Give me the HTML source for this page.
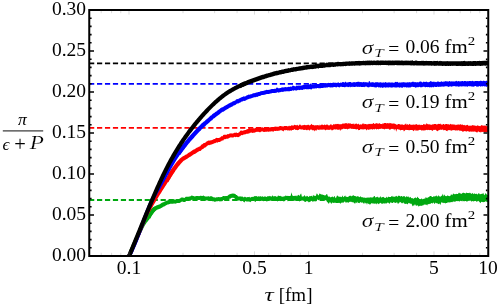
<!DOCTYPE html>
<html><head><meta charset="utf-8"><title>chart</title>
<style>html,body{margin:0;padding:0;background:#fff;}svg{display:block;will-change:transform}</style></head>
<body>
<svg width="498" height="306" viewBox="0 0 498 306">
<rect width="498" height="306" fill="#fff"/>
<defs><clipPath id="c"><rect x="89.25" y="10" width="399" height="246"/></clipPath></defs>
<line x1="89.05" y1="63.3" x2="487.5" y2="63.3" stroke="#000" stroke-width="1.8" stroke-dasharray="5.2 2.75"/>
<line x1="89.05" y1="83.9" x2="487.5" y2="83.9" stroke="#0000ff" stroke-width="1.8" stroke-dasharray="5.2 2.75"/>
<line x1="89.05" y1="127.9" x2="487.5" y2="127.9" stroke="#ff0000" stroke-width="1.8" stroke-dasharray="5.2 2.75"/>
<line x1="89.05" y1="200.0" x2="487.5" y2="200.0" stroke="#00a810" stroke-width="1.8" stroke-dasharray="5.2 2.75"/>
<g clip-path="url(#c)" stroke-linejoin="round" stroke-linecap="butt">
<path d="M129.10,256.00 L129.85,254.18 L130.60,252.38 L131.35,250.59 L132.10,248.81 L132.85,247.05 L133.60,245.30 L134.35,243.57 L135.10,241.85 L135.85,240.14 L136.60,238.44 L137.35,236.73 L138.10,235.02 L138.85,233.34 L139.60,231.70 L140.35,230.11 L141.10,228.60 L141.85,227.14 L142.60,225.73 L143.35,224.38 L144.10,223.12 L144.85,221.99 L145.60,220.98 L146.35,220.05 L147.10,219.13 L147.85,218.15 L148.60,217.05 L149.35,215.82 L150.10,214.56 L150.85,213.35 L151.60,212.30 L152.35,211.36 L153.10,210.47 L153.85,209.65 L154.60,208.97 L155.35,208.44" fill="none" stroke="#00a810" stroke-width="3.8"/>
<path d="M150.0,210.50 L150.7,209.55 L151.4,208.96 L152.1,208.25 L152.8,207.51 L153.5,206.96 L154.2,206.46 L154.9,206.20 L155.6,205.90 L156.3,205.60 L157.0,205.37 L157.7,205.11 L158.4,204.81 L159.1,204.49 L159.8,204.14 L160.5,203.77 L161.2,203.33 L161.9,202.84 L162.6,202.46 L163.3,202.21 L164.0,201.94 L164.7,201.60 L165.4,201.24 L166.1,200.89 L166.8,200.57 L167.5,200.46 L168.2,200.34 L168.9,200.06 L169.6,199.80 L170.3,199.82 L171.0,199.89 L171.7,199.95 L172.4,199.94 L173.1,199.60 L173.8,199.36 L174.5,199.44 L175.2,199.74 L175.9,199.30 L176.6,199.07 L177.3,198.98 L178.0,198.96 L178.7,199.01 L179.4,198.79 L180.1,198.41 L180.8,197.70 L181.5,197.39 L182.2,197.40 L182.9,197.44 L183.6,197.78 L184.3,198.00 L185.0,197.56 L185.7,196.80 L186.4,196.75 L187.1,196.74 L187.8,196.86 L188.5,196.85 L189.2,196.45 L189.9,196.52 L190.6,196.30 L191.3,195.62 L192.0,195.66 L192.7,195.87 L193.4,195.99 L194.1,196.16 L194.8,196.47 L195.5,196.20 L196.2,195.94 L196.9,195.93 L197.6,195.95 L198.3,196.09 L199.0,196.22 L199.7,196.00 L200.4,195.81 L201.1,195.73 L201.8,195.88 L202.5,196.09 L203.2,195.39 L203.9,195.74 L204.6,196.34 L205.3,196.60 L206.0,196.51 L206.7,196.47 L207.4,196.55 L208.1,196.26 L208.8,196.29 L209.5,196.67 L210.2,196.29 L210.9,196.16 L211.6,196.17 L212.3,196.54 L213.0,197.17 L213.7,197.18 L214.4,197.34 L215.1,197.79 L215.8,197.38 L216.5,197.18 L217.2,197.34 L217.9,197.25 L218.6,196.95 L219.3,197.07 L220.0,197.43 L220.7,196.92 L221.4,197.03 L222.1,196.93 L222.8,196.03 L223.5,196.06 L224.2,196.09 L224.9,196.20 L225.6,195.92 L226.3,195.93 L227.0,195.88 L227.7,195.73 L228.4,195.06 L229.1,194.51 L229.8,194.37 L230.5,194.06 L231.2,193.63 L231.9,193.63 L232.6,193.39 L233.3,193.47 L234.0,193.80 L234.7,193.74 L235.4,194.03 L236.1,195.00 L236.8,195.06 L237.5,195.82 L238.2,196.53 L238.9,196.56 L239.6,196.41 L240.3,196.28 L241.0,196.65 L241.7,196.60 L242.4,196.59 L243.1,197.05 L243.8,197.39 L244.5,196.87 L245.2,196.86 L245.9,197.16 L246.6,197.55 L247.3,197.10 L248.0,197.25 L248.7,197.09 L249.4,196.63 L250.1,197.67 L250.8,197.22 L251.5,197.01 L252.2,196.85 L252.9,196.96 L253.6,196.72 L254.3,196.32 L255.0,196.09 L255.7,196.21 L256.4,195.91 L257.1,196.39 L257.8,196.67 L258.5,196.37 L259.2,196.36 L259.9,196.69 L260.6,196.03 L261.3,196.78 L262.0,196.46 L262.7,196.23 L263.4,197.12 L264.1,196.62 L264.8,196.61 L265.5,196.60 L266.2,196.81 L266.9,197.11 L267.6,196.04 L268.3,196.61 L269.0,195.71 L269.7,196.35 L270.4,196.17 L271.1,196.20 L271.8,196.76 L272.5,195.19 L273.2,195.97 L273.9,196.69 L274.6,196.03 L275.3,195.96 L276.0,196.41 L276.7,196.80 L277.4,196.87 L278.1,195.31 L278.8,195.91 L279.5,196.11 L280.2,195.75 L280.9,196.28 L281.6,196.54 L282.3,196.50 L283.0,197.10 L283.7,196.19 L284.4,196.35 L285.1,196.30 L285.8,195.17 L286.5,196.07 L287.2,196.00 L287.9,195.69 L288.6,196.08 L289.3,195.94 L290.0,195.90 L290.7,195.71 L291.4,192.37 L292.1,194.70 L292.8,195.97 L293.5,195.96 L294.2,195.81 L294.9,195.98 L295.6,195.86 L296.3,195.61 L297.0,196.58 L297.7,195.32 L298.4,194.77 L299.1,195.62 L299.8,195.80 L300.5,194.07 L301.2,193.61 L301.9,196.71 L302.6,196.58 L303.3,196.38 L304.0,196.11 L304.7,195.05 L305.4,196.48 L306.1,196.77 L306.8,195.77 L307.5,195.97 L308.2,196.84 L308.9,196.94 L309.6,195.83 L310.3,196.15 L311.0,195.95 L311.7,195.84 L312.4,197.02 L313.1,194.82 L313.8,195.81 L314.5,195.85 L315.2,195.84 L315.9,195.99 L316.6,193.42 L317.3,193.71 L318.0,195.11 L318.7,195.59 L319.4,193.51 L320.1,193.72 L320.8,194.23 L321.5,194.50 L322.2,194.51 L322.9,194.75 L323.6,194.97 L324.3,195.37 L325.0,195.58 L325.7,195.28 L326.4,194.21 L327.1,194.04 L327.8,196.01 L328.5,196.71 L329.2,196.52 L329.9,196.80 L330.6,197.54 L331.3,196.71 L332.0,197.33 L332.7,196.15 L333.4,197.55 L334.1,196.40 L334.8,196.02 L335.5,198.18 L336.2,197.51 L336.9,195.70 L337.6,195.57 L338.3,196.77 L339.0,196.19 L339.7,196.96 L340.4,196.82 L341.1,196.81 L341.8,197.24 L342.5,195.17 L343.2,197.28 L343.9,196.87 L344.6,195.91 L345.3,195.52 L346.0,197.31 L346.7,196.56 L347.4,196.88 L348.1,197.05 L348.8,196.28 L349.5,195.86 L350.2,196.08 L350.9,195.61 L351.6,196.61 L352.3,195.78 L353.0,195.51 L353.7,195.24 L354.4,196.09 L355.1,196.04 L355.8,196.29 L356.5,196.63 L357.2,196.32 L357.9,196.35 L358.6,196.56 L359.3,197.13 L360.0,196.72 L360.7,196.33 L361.4,197.19 L362.1,197.26 L362.8,197.29 L363.5,197.63 L364.2,197.14 L364.9,197.93 L365.6,197.72 L366.3,198.12 L367.0,197.31 L367.7,197.75 L368.4,197.69 L369.1,196.96 L369.8,197.90 L370.5,197.17 L371.2,196.91 L371.9,198.07 L372.6,197.16 L373.3,197.31 L374.0,195.90 L374.7,195.97 L375.4,197.64 L376.1,197.00 L376.8,197.21 L377.5,196.46 L378.2,197.80 L378.9,197.18 L379.6,197.80 L380.3,196.06 L381.0,197.46 L381.7,197.58 L382.4,197.05 L383.1,197.13 L383.8,196.84 L384.5,197.92 L385.2,197.82 L385.9,198.09 L386.6,196.50 L387.3,198.08 L388.0,196.85 L388.7,196.63 L389.4,196.89 L390.1,197.03 L390.8,196.89 L391.5,196.16 L392.2,195.63 L392.9,196.91 L393.6,196.58 L394.3,196.79 L395.0,196.87 L395.7,196.16 L396.4,195.82 L397.1,196.70 L397.8,196.54 L398.5,195.41 L399.2,195.97 L399.9,195.67 L400.6,196.84 L401.3,196.02 L402.0,196.10 L402.7,197.04 L403.4,196.02 L404.1,196.61 L404.8,196.02 L405.5,197.43 L406.2,196.38 L406.9,196.13 L407.6,196.95 L408.3,196.27 L409.0,197.40 L409.7,197.60 L410.4,196.69 L411.1,197.93 L411.8,198.25 L412.5,198.11 L413.2,198.89 L413.9,198.35 L414.6,198.03 L415.3,197.23 L416.0,197.95 L416.7,198.13 L417.4,196.43 L418.1,197.67 L418.8,197.99 L419.5,199.17 L420.2,199.06 L420.9,199.35 L421.6,198.37 L422.3,199.05 L423.0,199.48 L423.7,198.68 L424.4,198.47 L425.1,198.67 L425.8,196.94 L426.5,197.72 L427.2,198.32 L427.9,197.28 L428.6,197.15 L429.3,196.83 L430.0,196.11 L430.7,196.02 L431.4,196.14 L432.1,196.97 L432.8,196.99 L433.5,196.25 L434.2,196.56 L434.9,196.14 L435.6,196.20 L436.3,195.19 L437.0,196.54 L437.7,196.56 L438.4,194.97 L439.1,196.72 L439.8,196.04 L440.5,197.00 L441.2,195.50 L441.9,196.13 L442.6,193.41 L443.3,196.56 L444.0,194.28 L444.7,195.22 L445.4,196.00 L446.1,196.34 L446.8,195.88 L447.5,195.37 L448.2,196.04 L448.9,195.77 L449.6,196.15 L450.3,196.00 L451.0,194.23 L451.7,194.74 L452.4,195.21 L453.1,193.36 L453.8,193.88 L454.5,194.23 L455.2,194.02 L455.9,194.14 L456.6,193.68 L457.3,194.01 L458.0,194.09 L458.7,192.73 L459.4,192.70 L460.1,193.80 L460.8,193.36 L461.5,193.88 L462.2,193.32 L462.9,192.64 L463.6,192.67 L464.3,193.05 L465.0,193.31 L465.7,193.47 L466.4,192.49 L467.1,192.91 L467.8,192.99 L468.5,193.11 L469.2,193.19 L469.9,192.38 L470.6,193.37 L471.3,193.67 L472.0,193.87 L472.7,192.87 L473.4,194.37 L474.1,193.45 L474.8,193.50 L475.5,193.90 L476.2,194.11 L476.9,193.62 L477.6,194.82 L478.3,193.50 L479.0,193.12 L479.7,194.14 L480.4,194.36 L481.1,193.87 L481.8,194.03 L482.5,193.70 L483.2,192.81 L483.9,194.40 L484.6,195.16 L485.3,193.18 L486.0,193.62 L486.7,194.61 L487.4,195.08 L488.1,194.94 L488.1,202.01 L487.4,202.31 L486.7,201.67 L486.0,201.43 L485.3,201.37 L484.6,202.06 L483.9,202.00 L483.2,202.14 L482.5,201.93 L481.8,201.83 L481.1,202.09 L480.4,203.15 L479.7,202.28 L479.0,201.45 L478.3,200.70 L477.6,201.29 L476.9,201.74 L476.2,201.43 L475.5,200.52 L474.8,200.83 L474.1,201.13 L473.4,201.42 L472.7,200.63 L472.0,201.44 L471.3,201.50 L470.6,200.29 L469.9,200.72 L469.2,200.82 L468.5,200.90 L467.8,200.56 L467.1,201.91 L466.4,201.31 L465.7,200.98 L465.0,200.27 L464.3,201.47 L463.6,201.23 L462.9,200.28 L462.2,201.52 L461.5,201.08 L460.8,200.71 L460.1,200.92 L459.4,201.63 L458.7,200.13 L458.0,201.80 L457.3,200.14 L456.6,200.44 L455.9,201.71 L455.2,201.20 L454.5,201.69 L453.8,201.75 L453.1,201.36 L452.4,202.30 L451.7,201.90 L451.0,202.35 L450.3,202.22 L449.6,202.38 L448.9,202.34 L448.2,202.50 L447.5,202.40 L446.8,203.06 L446.1,202.88 L445.4,203.49 L444.7,202.86 L444.0,203.18 L443.3,202.82 L442.6,202.82 L441.9,202.58 L441.2,202.13 L440.5,205.29 L439.8,203.22 L439.1,204.21 L438.4,203.92 L437.7,203.57 L437.0,203.17 L436.3,203.18 L435.6,202.58 L434.9,203.69 L434.2,203.72 L433.5,202.25 L432.8,203.39 L432.1,203.18 L431.4,202.88 L430.7,203.46 L430.0,204.34 L429.3,203.72 L428.6,204.15 L427.9,204.05 L427.2,205.61 L426.5,204.71 L425.8,204.53 L425.1,204.63 L424.4,204.57 L423.7,204.74 L423.0,205.66 L422.3,205.26 L421.6,206.06 L420.9,205.52 L420.2,206.07 L419.5,205.69 L418.8,206.67 L418.1,205.78 L417.4,205.35 L416.7,205.41 L416.0,205.96 L415.3,204.57 L414.6,204.52 L413.9,206.16 L413.2,204.94 L412.5,206.54 L411.8,204.25 L411.1,203.56 L410.4,203.81 L409.7,203.39 L409.0,202.68 L408.3,203.13 L407.6,204.53 L406.9,203.80 L406.2,203.75 L405.5,203.91 L404.8,203.51 L404.1,203.76 L403.4,202.22 L402.7,202.96 L402.0,203.54 L401.3,202.78 L400.6,202.29 L399.9,201.78 L399.2,203.00 L398.5,203.39 L397.8,203.63 L397.1,202.19 L396.4,202.61 L395.7,203.11 L395.0,202.76 L394.3,202.58 L393.6,202.05 L392.9,203.08 L392.2,202.94 L391.5,202.87 L390.8,202.13 L390.1,202.72 L389.4,204.00 L388.7,202.95 L388.0,202.44 L387.3,202.79 L386.6,203.25 L385.9,203.95 L385.2,202.77 L384.5,203.75 L383.8,203.30 L383.1,203.43 L382.4,203.76 L381.7,203.70 L381.0,203.36 L380.3,202.67 L379.6,203.14 L378.9,204.34 L378.2,203.82 L377.5,203.33 L376.8,203.62 L376.1,204.57 L375.4,203.32 L374.7,203.59 L374.0,203.96 L373.3,203.33 L372.6,203.41 L371.9,203.26 L371.2,203.31 L370.5,204.33 L369.8,204.65 L369.1,203.71 L368.4,204.07 L367.7,202.80 L367.0,204.75 L366.3,203.12 L365.6,203.41 L364.9,202.36 L364.2,203.69 L363.5,203.54 L362.8,202.47 L362.1,202.48 L361.4,202.64 L360.7,201.92 L360.0,202.41 L359.3,203.29 L358.6,202.68 L357.9,203.19 L357.2,201.56 L356.5,203.27 L355.8,202.25 L355.1,203.65 L354.4,203.21 L353.7,202.75 L353.0,201.63 L352.3,202.49 L351.6,202.03 L350.9,201.61 L350.2,202.00 L349.5,201.68 L348.8,202.54 L348.1,202.78 L347.4,202.33 L346.7,201.89 L346.0,203.26 L345.3,201.68 L344.6,201.60 L343.9,202.06 L343.2,203.03 L342.5,202.49 L341.8,202.55 L341.1,203.09 L340.4,203.80 L339.7,202.97 L339.0,202.64 L338.3,202.96 L337.6,203.01 L336.9,202.96 L336.2,202.99 L335.5,202.71 L334.8,202.63 L334.1,202.73 L333.4,203.04 L332.7,202.61 L332.0,202.72 L331.3,204.07 L330.6,202.78 L329.9,201.82 L329.2,203.27 L328.5,203.65 L327.8,202.34 L327.1,202.13 L326.4,200.62 L325.7,200.60 L325.0,199.66 L324.3,200.08 L323.6,199.90 L322.9,199.85 L322.2,200.69 L321.5,200.42 L320.8,200.68 L320.1,200.28 L319.4,199.53 L318.7,200.26 L318.0,199.88 L317.3,199.29 L316.6,200.85 L315.9,201.85 L315.2,200.90 L314.5,201.18 L313.8,201.44 L313.1,201.33 L312.4,201.69 L311.7,200.65 L311.0,200.93 L310.3,201.68 L309.6,202.25 L308.9,201.60 L308.2,202.51 L307.5,200.89 L306.8,201.04 L306.1,201.58 L305.4,202.04 L304.7,201.93 L304.0,200.77 L303.3,200.79 L302.6,200.38 L301.9,200.51 L301.2,200.69 L300.5,200.21 L299.8,201.85 L299.1,200.87 L298.4,200.82 L297.7,200.99 L297.0,200.50 L296.3,200.35 L295.6,200.68 L294.9,200.69 L294.2,200.56 L293.5,200.92 L292.8,200.93 L292.1,200.88 L291.4,199.66 L290.7,200.82 L290.0,200.47 L289.3,200.61 L288.6,200.44 L287.9,201.39 L287.2,200.00 L286.5,200.00 L285.8,200.36 L285.1,200.41 L284.4,201.24 L283.7,201.60 L283.0,201.00 L282.3,200.96 L281.6,200.67 L280.9,201.17 L280.2,200.44 L279.5,201.09 L278.8,201.07 L278.1,200.97 L277.4,201.44 L276.7,200.94 L276.0,200.86 L275.3,200.16 L274.6,200.74 L273.9,201.08 L273.2,200.45 L272.5,200.53 L271.8,200.93 L271.1,200.80 L270.4,200.56 L269.7,201.08 L269.0,200.59 L268.3,200.87 L267.6,200.99 L266.9,201.66 L266.2,200.90 L265.5,200.70 L264.8,200.46 L264.1,201.02 L263.4,201.23 L262.7,200.92 L262.0,200.67 L261.3,200.78 L260.6,200.58 L259.9,200.77 L259.2,201.15 L258.5,200.58 L257.8,200.86 L257.1,200.87 L256.4,200.20 L255.7,201.65 L255.0,201.88 L254.3,200.75 L253.6,201.04 L252.9,201.04 L252.2,200.82 L251.5,201.05 L250.8,201.72 L250.1,202.33 L249.4,201.48 L248.7,201.52 L248.0,201.46 L247.3,201.39 L246.6,201.47 L245.9,201.35 L245.2,200.96 L244.5,202.38 L243.8,202.06 L243.1,201.19 L242.4,200.86 L241.7,200.96 L241.0,201.49 L240.3,200.50 L239.6,200.47 L238.9,200.47 L238.2,200.54 L237.5,200.74 L236.8,200.13 L236.1,199.83 L235.4,199.55 L234.7,198.45 L234.0,197.90 L233.3,197.71 L232.6,197.72 L231.9,197.75 L231.2,198.07 L230.5,198.66 L229.8,198.62 L229.1,199.17 L228.4,199.81 L227.7,200.04 L227.0,199.92 L226.3,199.90 L225.6,200.30 L224.9,200.46 L224.2,200.07 L223.5,200.05 L222.8,200.79 L222.1,201.23 L221.4,201.29 L220.7,201.35 L220.0,201.55 L219.3,201.25 L218.6,201.06 L217.9,201.27 L217.2,201.28 L216.5,201.19 L215.8,201.61 L215.1,201.82 L214.4,201.70 L213.7,201.19 L213.0,201.28 L212.3,201.32 L211.6,200.39 L210.9,200.11 L210.2,200.48 L209.5,200.99 L208.8,200.87 L208.1,200.39 L207.4,200.47 L206.7,200.35 L206.0,200.40 L205.3,200.50 L204.6,200.49 L203.9,200.14 L203.2,199.90 L202.5,201.09 L201.8,200.87 L201.1,199.68 L200.4,199.80 L199.7,200.02 L199.0,200.08 L198.3,200.09 L197.6,199.89 L196.9,199.75 L196.2,200.00 L195.5,200.28 L194.8,200.49 L194.1,200.40 L193.4,199.96 L192.7,199.80 L192.0,199.68 L191.3,200.11 L190.6,200.70 L189.9,200.61 L189.2,200.68 L188.5,201.09 L187.8,201.02 L187.1,200.71 L186.4,200.68 L185.7,201.43 L185.0,201.89 L184.3,201.98 L183.6,202.01 L182.9,201.71 L182.2,201.38 L181.5,201.63 L180.8,202.31 L180.1,202.69 L179.4,202.95 L178.7,202.96 L178.0,202.90 L177.3,202.94 L176.6,203.15 L175.9,203.58 L175.2,203.75 L174.5,203.57 L173.8,203.42 L173.1,203.75 L172.4,203.81 L171.7,203.79 L171.0,203.77 L170.3,203.72 L169.6,203.95 L168.9,204.27 L168.2,204.43 L167.5,204.58 L166.8,204.93 L166.1,205.30 L165.4,205.71 L164.7,206.15 L164.0,206.52 L163.3,206.84 L162.6,207.26 L161.9,207.73 L161.2,208.12 L160.5,208.39 L159.8,208.64 L159.1,208.91 L158.4,209.20 L157.7,209.49 L157.0,209.79 L156.3,210.21 L155.6,210.74 L154.9,211.39 L154.2,212.34 L153.5,213.26 L152.8,214.23 L152.1,215.19 L151.4,216.27 L150.7,217.74 L150.0,219.04Z" fill="#00a810" stroke="none"/>
<path d="M129.10,256.00 L129.85,254.35 L130.60,252.68 L131.35,250.99 L132.10,249.30 L132.85,247.58 L133.60,245.86 L134.35,244.12 L135.10,242.36 L135.85,240.60 L136.60,238.82 L137.35,237.03 L138.10,235.24 L138.85,233.43 L139.60,231.61 L140.35,229.79 L141.10,227.95 L141.85,226.05 L142.60,224.07 L143.35,222.06 L144.10,220.08 L144.85,218.17 L145.60,216.39 L146.35,214.76 L147.10,213.21 L147.85,211.71 L148.60,210.27 L149.35,208.88 L150.10,207.52 L150.85,206.20 L151.60,204.90 L152.35,203.62 L153.10,202.36 L153.85,201.10 L154.60,199.85 L155.35,198.59 L156.10,197.33 L156.85,196.07 L157.60,194.84 L158.35,193.62 L159.10,192.42 L159.85,191.22 L160.60,190.03 L161.35,188.85 L162.10,187.68 L162.85,186.51 L163.60,185.34 L164.35,184.17 L165.10,183.00 L165.85,181.82 L166.60,180.62 L167.35,179.41 L168.10,178.20 L168.85,176.99 L169.60,175.78 L170.35,174.59 L171.10,173.41 L171.85,172.25 L172.60,171.12 L173.35,170.01" fill="none" stroke="#ff0000" stroke-width="3.8"/>
<path d="M168.0,174.18 L168.7,173.07 L169.4,171.97 L170.1,170.88 L170.8,169.80 L171.5,168.76 L172.2,167.75 L172.9,166.83 L173.6,165.93 L174.3,165.00 L175.0,164.09 L175.7,163.25 L176.4,162.36 L177.1,161.48 L177.8,160.65 L178.5,159.88 L179.2,159.20 L179.9,158.56 L180.6,157.97 L181.3,157.39 L182.0,156.86 L182.7,156.40 L183.4,156.00 L184.1,155.65 L184.8,155.26 L185.5,154.80 L186.2,154.48 L186.9,154.20 L187.6,153.47 L188.3,152.92 L189.0,152.56 L189.7,152.19 L190.4,151.78 L191.1,151.29 L191.8,150.76 L192.5,150.20 L193.2,149.64 L193.9,149.50 L194.6,149.24 L195.3,148.82 L196.0,148.31 L196.7,147.79 L197.4,147.39 L198.1,147.30 L198.8,146.77 L199.5,146.45 L200.2,146.24 L200.9,145.15 L201.6,144.62 L202.3,144.27 L203.0,143.85 L203.7,143.03 L204.4,143.01 L205.1,142.81 L205.8,142.27 L206.5,141.59 L207.2,141.32 L207.9,140.73 L208.6,140.59 L209.3,140.72 L210.0,140.27 L210.7,140.41 L211.4,140.30 L212.1,140.09 L212.8,139.77 L213.5,139.28 L214.2,139.06 L214.9,138.96 L215.6,138.29 L216.3,137.71 L217.0,137.98 L217.7,137.99 L218.4,137.90 L219.1,137.91 L219.8,137.50 L220.5,137.13 L221.2,136.23 L221.9,136.16 L222.6,136.18 L223.3,135.10 L224.0,134.85 L224.7,134.86 L225.4,134.65 L226.1,134.64 L226.8,134.69 L227.5,134.08 L228.2,134.15 L228.9,133.90 L229.6,133.51 L230.3,133.49 L231.0,133.35 L231.7,133.45 L232.4,133.39 L233.1,133.48 L233.8,132.92 L234.5,132.73 L235.2,132.84 L235.9,132.82 L236.6,132.45 L237.3,133.01 L238.0,133.12 L238.7,132.41 L239.4,131.92 L240.1,131.05 L240.8,130.60 L241.5,130.61 L242.2,130.96 L242.9,130.38 L243.6,130.40 L244.3,130.25 L245.0,130.09 L245.7,129.93 L246.4,129.46 L247.1,129.33 L247.8,128.97 L248.5,129.06 L249.2,127.91 L249.9,128.08 L250.6,128.72 L251.3,128.48 L252.0,128.27 L252.7,128.42 L253.4,128.36 L254.1,128.22 L254.8,128.51 L255.5,127.64 L256.2,127.54 L256.9,127.83 L257.6,127.73 L258.3,127.83 L259.0,127.87 L259.7,128.12 L260.4,127.73 L261.1,127.49 L261.8,127.46 L262.5,127.25 L263.2,127.47 L263.9,127.98 L264.6,127.98 L265.3,127.62 L266.0,127.74 L266.7,127.64 L267.4,127.46 L268.1,127.38 L268.8,127.54 L269.5,127.51 L270.2,127.26 L270.9,127.29 L271.6,127.00 L272.3,127.06 L273.0,127.53 L273.7,127.09 L274.4,126.80 L275.1,126.74 L275.8,126.62 L276.5,126.78 L277.2,126.86 L277.9,126.70 L278.6,126.64 L279.3,126.37 L280.0,126.06 L280.7,126.00 L281.4,126.13 L282.1,126.30 L282.8,126.49 L283.5,126.38 L284.2,125.93 L284.9,125.91 L285.6,126.06 L286.3,126.05 L287.0,125.91 L287.7,126.54 L288.4,126.33 L289.1,125.48 L289.8,126.30 L290.5,125.90 L291.2,125.56 L291.9,125.30 L292.6,125.53 L293.3,125.70 L294.0,125.05 L294.7,124.85 L295.4,124.99 L296.1,125.46 L296.8,125.04 L297.5,124.81 L298.2,125.88 L298.9,125.22 L299.6,124.55 L300.3,124.60 L301.0,125.56 L301.7,125.38 L302.4,125.19 L303.1,125.23 L303.8,125.00 L304.5,124.72 L305.2,125.15 L305.9,125.12 L306.6,125.18 L307.3,124.69 L308.0,125.14 L308.7,124.62 L309.4,125.53 L310.1,125.30 L310.8,124.72 L311.5,123.73 L312.2,125.03 L312.9,124.80 L313.6,125.05 L314.3,125.59 L315.0,125.28 L315.7,125.25 L316.4,125.22 L317.1,125.22 L317.8,125.10 L318.5,125.20 L319.2,125.77 L319.9,124.49 L320.6,125.43 L321.3,124.72 L322.0,124.54 L322.7,124.83 L323.4,125.23 L324.1,124.73 L324.8,124.55 L325.5,125.28 L326.2,124.60 L326.9,124.83 L327.6,124.45 L328.3,125.32 L329.0,125.50 L329.7,125.33 L330.4,124.43 L331.1,123.96 L331.8,125.18 L332.5,125.23 L333.2,124.58 L333.9,123.92 L334.6,124.56 L335.3,124.27 L336.0,123.82 L336.7,124.20 L337.4,124.09 L338.1,123.83 L338.8,124.21 L339.5,124.19 L340.2,124.20 L340.9,124.18 L341.6,124.24 L342.3,123.62 L343.0,123.77 L343.7,123.53 L344.4,123.52 L345.1,123.43 L345.8,123.09 L346.5,123.04 L347.2,124.20 L347.9,122.70 L348.6,123.58 L349.3,123.36 L350.0,123.66 L350.7,123.31 L351.4,124.12 L352.1,123.98 L352.8,123.64 L353.5,123.57 L354.2,124.86 L354.9,123.46 L355.6,123.92 L356.3,123.26 L357.0,124.15 L357.7,124.35 L358.4,123.58 L359.1,124.41 L359.8,124.84 L360.5,124.28 L361.2,124.60 L361.9,124.59 L362.6,123.46 L363.3,123.35 L364.0,124.55 L364.7,123.75 L365.4,123.93 L366.1,124.08 L366.8,124.51 L367.5,124.29 L368.2,124.13 L368.9,123.77 L369.6,124.09 L370.3,123.86 L371.0,124.16 L371.7,123.77 L372.4,123.96 L373.1,123.28 L373.8,123.10 L374.5,124.03 L375.2,123.96 L375.9,123.11 L376.6,123.19 L377.3,123.54 L378.0,123.51 L378.7,123.83 L379.4,123.05 L380.1,123.85 L380.8,123.93 L381.5,123.95 L382.2,124.14 L382.9,122.95 L383.6,123.73 L384.3,123.07 L385.0,123.11 L385.7,123.12 L386.4,123.38 L387.1,122.91 L387.8,123.17 L388.5,123.16 L389.2,123.59 L389.9,122.70 L390.6,123.34 L391.3,123.23 L392.0,123.71 L392.7,123.48 L393.4,123.38 L394.1,123.60 L394.8,123.79 L395.5,123.98 L396.2,124.43 L396.9,124.63 L397.6,124.55 L398.3,124.11 L399.0,123.97 L399.7,124.16 L400.4,124.62 L401.1,124.72 L401.8,124.23 L402.5,124.39 L403.2,124.70 L403.9,124.98 L404.6,124.52 L405.3,124.29 L406.0,123.14 L406.7,125.11 L407.4,124.08 L408.1,124.67 L408.8,124.80 L409.5,123.87 L410.2,124.46 L410.9,124.75 L411.6,124.65 L412.3,125.06 L413.0,124.31 L413.7,124.63 L414.4,124.70 L415.1,124.57 L415.8,124.47 L416.5,123.94 L417.2,124.71 L417.9,124.74 L418.6,124.70 L419.3,124.70 L420.0,124.62 L420.7,125.30 L421.4,124.71 L422.1,124.94 L422.8,124.89 L423.5,123.98 L424.2,124.34 L424.9,124.60 L425.6,124.72 L426.3,123.10 L427.0,124.42 L427.7,123.80 L428.4,124.25 L429.1,124.66 L429.8,124.03 L430.5,124.63 L431.2,124.83 L431.9,124.73 L432.6,124.19 L433.3,124.59 L434.0,124.06 L434.7,124.04 L435.4,123.88 L436.1,124.10 L436.8,124.85 L437.5,124.36 L438.2,123.80 L438.9,124.10 L439.6,124.04 L440.3,123.55 L441.0,124.42 L441.7,124.43 L442.4,124.65 L443.1,124.04 L443.8,124.06 L444.5,124.77 L445.2,124.37 L445.9,124.04 L446.6,124.01 L447.3,124.28 L448.0,124.16 L448.7,124.27 L449.4,124.68 L450.1,124.16 L450.8,123.72 L451.5,124.46 L452.2,124.54 L452.9,124.19 L453.6,124.60 L454.3,124.64 L455.0,124.26 L455.7,125.25 L456.4,124.82 L457.1,124.83 L457.8,124.60 L458.5,124.43 L459.2,124.44 L459.9,124.70 L460.6,123.97 L461.3,125.11 L462.0,124.24 L462.7,124.85 L463.4,125.19 L464.1,124.80 L464.8,125.18 L465.5,125.38 L466.2,125.14 L466.9,125.07 L467.6,124.80 L468.3,125.58 L469.0,125.93 L469.7,125.49 L470.4,125.65 L471.1,125.46 L471.8,125.87 L472.5,125.05 L473.2,125.25 L473.9,125.39 L474.6,125.58 L475.3,125.46 L476.0,126.24 L476.7,125.79 L477.4,125.27 L478.1,125.75 L478.8,125.82 L479.5,125.93 L480.2,126.15 L480.9,125.39 L481.6,124.99 L482.3,125.64 L483.0,124.98 L483.7,125.99 L484.4,125.39 L485.1,125.61 L485.8,125.71 L486.5,126.14 L487.2,126.02 L487.9,125.69 L488.6,127.62 L488.6,131.22 L487.9,132.52 L487.2,131.93 L486.5,131.90 L485.8,132.10 L485.1,132.13 L484.4,132.28 L483.7,131.98 L483.0,131.80 L482.3,132.11 L481.6,131.81 L480.9,132.70 L480.2,131.82 L479.5,132.30 L478.8,131.78 L478.1,131.28 L477.4,132.49 L476.7,132.60 L476.0,131.85 L475.3,131.63 L474.6,131.39 L473.9,131.46 L473.2,131.69 L472.5,131.56 L471.8,131.69 L471.1,131.43 L470.4,131.48 L469.7,131.82 L469.0,131.87 L468.3,131.33 L467.6,131.10 L466.9,131.45 L466.2,131.58 L465.5,131.18 L464.8,130.90 L464.1,131.21 L463.4,131.47 L462.7,132.07 L462.0,130.67 L461.3,130.98 L460.6,130.48 L459.9,131.30 L459.2,130.21 L458.5,130.25 L457.8,130.35 L457.1,130.78 L456.4,130.24 L455.7,130.56 L455.0,130.59 L454.3,130.09 L453.6,130.01 L452.9,130.53 L452.2,130.08 L451.5,130.75 L450.8,130.81 L450.1,129.80 L449.4,130.22 L448.7,130.19 L448.0,129.95 L447.3,131.31 L446.6,130.96 L445.9,130.40 L445.2,130.05 L444.5,129.98 L443.8,130.43 L443.1,129.82 L442.4,129.59 L441.7,129.72 L441.0,129.95 L440.3,129.50 L439.6,129.90 L438.9,130.25 L438.2,130.40 L437.5,131.16 L436.8,130.90 L436.1,130.05 L435.4,129.68 L434.7,129.91 L434.0,129.76 L433.3,129.98 L432.6,130.97 L431.9,130.40 L431.2,129.92 L430.5,129.89 L429.8,130.01 L429.1,130.36 L428.4,129.64 L427.7,130.32 L427.0,129.77 L426.3,129.96 L425.6,130.34 L424.9,130.32 L424.2,130.38 L423.5,130.48 L422.8,130.34 L422.1,130.49 L421.4,130.49 L420.7,129.91 L420.0,129.66 L419.3,130.07 L418.6,130.44 L417.9,130.03 L417.2,131.12 L416.5,130.29 L415.8,130.98 L415.1,129.57 L414.4,130.25 L413.7,131.20 L413.0,130.52 L412.3,129.88 L411.6,129.96 L410.9,129.97 L410.2,129.90 L409.5,130.22 L408.8,130.36 L408.1,129.97 L407.4,129.96 L406.7,129.91 L406.0,129.74 L405.3,130.02 L404.6,130.66 L403.9,131.62 L403.2,129.83 L402.5,130.03 L401.8,129.94 L401.1,130.01 L400.4,130.42 L399.7,129.73 L399.0,129.42 L398.3,129.62 L397.6,128.99 L396.9,129.45 L396.2,131.78 L395.5,129.11 L394.8,129.01 L394.1,130.46 L393.4,128.44 L392.7,128.56 L392.0,129.06 L391.3,128.48 L390.6,129.48 L389.9,129.63 L389.2,129.41 L388.5,128.73 L387.8,128.43 L387.1,128.20 L386.4,128.66 L385.7,128.52 L385.0,128.56 L384.3,129.75 L383.6,128.77 L382.9,128.97 L382.2,128.73 L381.5,128.49 L380.8,128.88 L380.1,128.60 L379.4,128.66 L378.7,129.51 L378.0,128.99 L377.3,129.09 L376.6,129.70 L375.9,128.41 L375.2,128.86 L374.5,129.38 L373.8,129.21 L373.1,128.99 L372.4,129.68 L371.7,129.36 L371.0,129.11 L370.3,129.58 L369.6,129.55 L368.9,129.51 L368.2,130.06 L367.5,128.97 L366.8,130.46 L366.1,129.64 L365.4,129.09 L364.7,129.13 L364.0,129.22 L363.3,129.55 L362.6,129.56 L361.9,129.10 L361.2,129.43 L360.5,129.01 L359.8,129.98 L359.1,130.07 L358.4,130.27 L357.7,129.06 L357.0,129.29 L356.3,129.48 L355.6,129.20 L354.9,128.87 L354.2,129.02 L353.5,129.08 L352.8,128.25 L352.1,128.57 L351.4,128.79 L350.7,128.81 L350.0,128.11 L349.3,129.05 L348.6,128.75 L347.9,128.64 L347.2,129.72 L346.5,128.27 L345.8,128.76 L345.1,128.91 L344.4,128.37 L343.7,128.22 L343.0,129.09 L342.3,129.30 L341.6,129.47 L340.9,129.42 L340.2,131.10 L339.5,129.35 L338.8,129.74 L338.1,129.84 L337.4,129.80 L336.7,129.27 L336.0,129.50 L335.3,129.49 L334.6,129.19 L333.9,129.42 L333.2,129.87 L332.5,130.32 L331.8,130.56 L331.1,129.47 L330.4,129.53 L329.7,129.68 L329.0,130.01 L328.3,129.67 L327.6,129.85 L326.9,129.86 L326.2,129.76 L325.5,130.44 L324.8,129.66 L324.1,129.51 L323.4,129.52 L322.7,129.71 L322.0,129.59 L321.3,129.63 L320.6,129.82 L319.9,129.37 L319.2,130.31 L318.5,129.86 L317.8,129.69 L317.1,129.30 L316.4,130.73 L315.7,130.41 L315.0,129.94 L314.3,131.49 L313.6,129.88 L312.9,130.34 L312.2,130.22 L311.5,129.41 L310.8,129.47 L310.1,129.75 L309.4,130.70 L308.7,130.02 L308.0,129.50 L307.3,130.20 L306.6,130.25 L305.9,129.75 L305.2,129.76 L304.5,129.93 L303.8,129.80 L303.1,129.92 L302.4,129.30 L301.7,129.42 L301.0,129.61 L300.3,129.31 L299.6,128.89 L298.9,129.73 L298.2,130.12 L297.5,130.37 L296.8,129.89 L296.1,129.66 L295.4,129.95 L294.7,129.01 L294.0,129.40 L293.3,129.88 L292.6,129.99 L291.9,130.01 L291.2,130.93 L290.5,130.01 L289.8,130.98 L289.1,130.04 L288.4,130.59 L287.7,130.61 L287.0,130.26 L286.3,130.12 L285.6,130.29 L284.9,130.32 L284.2,130.11 L283.5,131.46 L282.8,130.89 L282.1,130.45 L281.4,130.28 L280.7,130.31 L280.0,130.34 L279.3,130.75 L278.6,130.69 L277.9,130.73 L277.2,130.88 L276.5,130.71 L275.8,131.05 L275.1,131.03 L274.4,130.86 L273.7,131.60 L273.0,131.67 L272.3,131.31 L271.6,131.28 L270.9,131.59 L270.2,131.58 L269.5,131.62 L268.8,131.74 L268.1,131.76 L267.4,131.42 L266.7,131.70 L266.0,131.67 L265.3,131.86 L264.6,132.08 L263.9,131.83 L263.2,131.89 L262.5,131.27 L261.8,131.51 L261.1,131.53 L260.4,132.24 L259.7,132.25 L259.0,131.92 L258.3,131.69 L257.6,131.68 L256.9,131.88 L256.2,131.80 L255.5,132.33 L254.8,132.68 L254.1,132.58 L253.4,132.79 L252.7,132.90 L252.0,132.80 L251.3,132.56 L250.6,132.67 L249.9,132.73 L249.2,133.44 L248.5,133.38 L247.8,133.74 L247.1,133.73 L246.4,133.85 L245.7,134.30 L245.0,134.28 L244.3,134.40 L243.6,134.40 L242.9,134.95 L242.2,135.23 L241.5,135.12 L240.8,135.55 L240.1,136.31 L239.4,136.55 L238.7,137.08 L238.0,137.16 L237.3,136.96 L236.6,136.82 L235.9,137.19 L235.2,137.05 L234.5,136.75 L233.8,137.32 L233.1,137.60 L232.4,137.54 L231.7,137.45 L231.0,137.36 L230.3,137.49 L229.6,137.80 L228.9,138.36 L228.2,138.47 L227.5,138.74 L226.8,138.80 L226.1,138.68 L225.4,139.23 L224.7,139.24 L224.0,139.22 L223.3,140.43 L222.6,140.44 L221.9,140.39 L221.2,141.25 L220.5,141.58 L219.8,142.11 L219.1,142.12 L218.4,142.00 L217.7,142.56 L217.0,142.70 L216.3,142.29 L215.6,142.95 L214.9,143.23 L214.2,143.24 L213.5,143.72 L212.8,144.05 L212.1,144.28 L211.4,144.61 L210.7,144.68 L210.0,144.81 L209.3,145.24 L208.6,145.07 L207.9,145.53 L207.2,145.85 L206.5,146.58 L205.8,147.16 L205.1,147.46 L204.4,147.63 L203.7,148.55 L203.0,149.02 L202.3,149.37 L201.6,149.83 L200.9,150.80 L200.2,150.90 L199.5,151.07 L198.8,151.58 L198.1,151.70 L197.4,152.16 L196.7,152.73 L196.0,153.27 L195.3,153.71 L194.6,153.99 L193.9,154.15 L193.2,154.73 L192.5,155.28 L191.8,155.82 L191.1,156.30 L190.4,156.71 L189.7,157.06 L189.0,157.38 L188.3,157.89 L187.6,158.60 L186.9,158.88 L186.2,159.22 L185.5,159.72 L184.8,160.17 L184.1,160.61 L183.4,161.12 L182.7,161.73 L182.0,162.46 L181.3,163.26 L180.6,164.06 L179.9,164.88 L179.2,165.72 L178.5,166.62 L177.8,167.55 L177.1,168.51 L176.4,169.44 L175.7,170.35 L175.0,171.39 L174.3,172.48 L173.6,173.53 L172.9,174.57 L172.2,175.70 L171.5,176.83 L170.8,177.99 L170.1,179.13 L169.4,180.27 L168.7,181.40 L168.0,182.54Z" fill="#ff0000" stroke="none"/>
<path d="M129.10,256.00 L129.85,254.58 L130.60,253.10 L131.35,251.55 L132.10,249.95 L132.85,248.29 L133.60,246.58 L134.35,244.82 L135.10,243.02 L135.85,241.19 L136.60,239.31 L137.35,237.41 L138.10,235.49 L138.85,233.54 L139.60,231.58 L140.35,229.60 L141.10,227.62 L141.85,225.63 L142.60,223.64 L143.35,221.65 L144.10,219.67 L144.85,217.71 L145.60,215.76 L146.35,213.83 L147.10,211.93 L147.85,210.06 L148.60,208.22 L149.35,206.41 L150.10,204.65 L150.85,202.94 L151.60,201.27 L152.35,199.66 L153.10,198.11 L153.85,196.62 L154.60,195.17 L155.35,193.78 L156.10,192.41 L156.85,191.08 L157.60,189.77 L158.35,188.47 L159.10,187.18 L159.85,185.89 L160.60,184.58 L161.35,183.26 L162.10,181.91 L162.85,180.54 L163.60,179.15 L164.35,177.75 L165.10,176.34 L165.85,174.92 L166.60,173.50 L167.35,172.09 L168.10,170.69 L168.85,169.30 L169.60,167.94 L170.35,166.60 L171.10,165.28 L171.85,164.00 L172.60,162.73 L173.35,161.49 L174.10,160.28 L174.85,159.09 L175.60,157.92 L176.35,156.77 L177.10,155.64 L177.85,154.54 L178.60,153.45 L179.35,152.38 L180.10,151.33 L180.85,150.30 L181.60,149.29 L182.35,148.29 L183.10,147.31 L183.85,146.34 L184.60,145.39 L185.35,144.45" fill="none" stroke="#0000ff" stroke-width="3.8"/>
<path d="M180.0,147.73 L180.7,146.80 L181.4,145.90 L182.1,145.02 L182.8,144.13 L183.5,143.24 L184.2,142.40 L184.9,141.55 L185.6,140.69 L186.3,139.90 L187.0,139.09 L187.7,138.16 L188.4,137.36 L189.1,136.63 L189.8,135.78 L190.5,135.01 L191.2,134.29 L191.9,133.54 L192.6,132.78 L193.3,132.02 L194.0,131.23 L194.7,130.51 L195.4,129.82 L196.1,129.09 L196.8,128.36 L197.5,127.61 L198.2,126.83 L198.9,126.23 L199.6,125.57 L200.3,124.83 L201.0,123.97 L201.7,123.37 L202.4,122.78 L203.1,122.17 L203.8,121.58 L204.5,121.29 L205.2,120.40 L205.9,119.71 L206.6,119.25 L207.3,118.74 L208.0,118.04 L208.7,117.42 L209.4,116.72 L210.1,116.06 L210.8,115.61 L211.5,115.29 L212.2,114.32 L212.9,113.71 L213.6,113.37 L214.3,112.92 L215.0,112.21 L215.7,111.76 L216.4,111.41 L217.1,110.79 L217.8,110.25 L218.5,109.83 L219.2,109.30 L219.9,108.70 L220.6,108.09 L221.3,107.79 L222.0,107.19 L222.7,107.14 L223.4,106.85 L224.1,106.23 L224.8,105.87 L225.5,105.40 L226.2,105.02 L226.9,104.65 L227.6,104.30 L228.3,103.74 L229.0,103.39 L229.7,103.10 L230.4,102.66 L231.1,102.33 L231.8,102.27 L232.5,101.57 L233.2,101.32 L233.9,101.11 L234.6,100.74 L235.3,100.40 L236.0,99.49 L236.7,99.25 L237.4,99.10 L238.1,99.13 L238.8,98.60 L239.5,98.28 L240.2,98.08 L240.9,97.41 L241.6,97.34 L242.3,97.10 L243.0,96.73 L243.7,96.23 L244.4,96.56 L245.1,96.38 L245.8,95.94 L246.5,95.58 L247.2,95.34 L247.9,94.91 L248.6,94.44 L249.3,94.73 L250.0,94.41 L250.7,94.23 L251.4,94.13 L252.1,93.79 L252.8,93.62 L253.5,93.23 L254.2,93.11 L254.9,93.20 L255.6,92.86 L256.3,92.49 L257.0,92.54 L257.7,92.34 L258.4,92.06 L259.1,92.04 L259.8,91.72 L260.5,91.29 L261.2,91.15 L261.9,91.12 L262.6,90.94 L263.3,90.89 L264.0,90.61 L264.7,90.59 L265.4,90.36 L266.1,90.05 L266.8,89.82 L267.5,90.07 L268.2,90.07 L268.9,89.81 L269.6,89.71 L270.3,89.49 L271.0,89.21 L271.7,89.07 L272.4,89.08 L273.1,88.90 L273.8,88.98 L274.5,88.64 L275.2,88.64 L275.9,88.68 L276.6,87.45 L277.3,87.50 L278.0,88.24 L278.7,88.14 L279.4,88.19 L280.1,88.05 L280.8,88.00 L281.5,87.44 L282.2,87.40 L282.9,87.37 L283.6,87.60 L284.3,87.32 L285.0,87.33 L285.7,86.94 L286.4,87.21 L287.1,87.21 L287.8,87.04 L288.5,86.86 L289.2,87.10 L289.9,86.87 L290.6,86.46 L291.3,86.70 L292.0,86.39 L292.7,85.59 L293.4,85.65 L294.1,85.94 L294.8,86.28 L295.5,86.39 L296.2,85.68 L296.9,85.56 L297.6,85.72 L298.3,85.73 L299.0,85.31 L299.7,85.72 L300.4,85.43 L301.1,85.81 L301.8,85.32 L302.5,85.34 L303.2,84.96 L303.9,84.67 L304.6,85.08 L305.3,84.76 L306.0,84.44 L306.7,84.99 L307.4,84.83 L308.1,84.28 L308.8,84.53 L309.5,84.50 L310.2,83.70 L310.9,83.57 L311.6,84.61 L312.3,84.66 L313.0,84.13 L313.7,84.72 L314.4,84.29 L315.1,84.28 L315.8,83.99 L316.5,83.64 L317.2,83.88 L317.9,83.91 L318.6,84.09 L319.3,83.65 L320.0,83.82 L320.7,83.67 L321.4,83.79 L322.1,83.65 L322.8,83.41 L323.5,83.33 L324.2,83.50 L324.9,83.30 L325.6,82.98 L326.3,82.99 L327.0,83.59 L327.7,82.99 L328.4,82.71 L329.1,83.25 L329.8,83.32 L330.5,82.65 L331.2,82.88 L331.9,83.17 L332.6,82.63 L333.3,82.42 L334.0,82.64 L334.7,82.86 L335.4,82.84 L336.1,82.65 L336.8,82.94 L337.5,82.74 L338.2,82.30 L338.9,82.72 L339.6,83.24 L340.3,82.38 L341.0,82.63 L341.7,82.82 L342.4,82.05 L343.1,82.26 L343.8,82.07 L344.5,82.67 L345.2,81.81 L345.9,81.64 L346.6,82.72 L347.3,82.50 L348.0,82.28 L348.7,82.30 L349.4,82.08 L350.1,81.97 L350.8,81.90 L351.5,82.70 L352.2,82.34 L352.9,82.68 L353.6,82.11 L354.3,82.30 L355.0,81.89 L355.7,82.50 L356.4,82.09 L357.1,82.12 L357.8,81.80 L358.5,81.83 L359.2,81.65 L359.9,82.35 L360.6,81.91 L361.3,82.21 L362.0,81.96 L362.7,82.50 L363.4,81.93 L364.1,81.73 L364.8,82.45 L365.5,81.96 L366.2,82.38 L366.9,81.98 L367.6,82.57 L368.3,82.73 L369.0,81.12 L369.7,81.35 L370.4,82.54 L371.1,82.70 L371.8,82.02 L372.5,82.27 L373.2,82.33 L373.9,82.58 L374.6,82.63 L375.3,82.15 L376.0,82.35 L376.7,82.18 L377.4,82.06 L378.1,82.69 L378.8,82.32 L379.5,82.55 L380.2,82.38 L380.9,81.88 L381.6,82.69 L382.3,82.45 L383.0,82.79 L383.7,82.16 L384.4,82.72 L385.1,82.34 L385.8,81.97 L386.5,82.70 L387.2,82.36 L387.9,82.99 L388.6,82.29 L389.3,82.22 L390.0,82.80 L390.7,82.52 L391.4,82.46 L392.1,82.59 L392.8,82.48 L393.5,82.72 L394.2,82.80 L394.9,82.28 L395.6,81.69 L396.3,82.24 L397.0,81.74 L397.7,82.06 L398.4,82.80 L399.1,82.62 L399.8,82.62 L400.5,82.46 L401.2,82.67 L401.9,82.12 L402.6,82.44 L403.3,82.03 L404.0,82.57 L404.7,82.24 L405.4,82.57 L406.1,82.39 L406.8,82.43 L407.5,82.18 L408.2,82.25 L408.9,82.39 L409.6,82.08 L410.3,82.52 L411.0,82.26 L411.7,82.24 L412.4,81.53 L413.1,82.17 L413.8,81.61 L414.5,82.26 L415.2,82.33 L415.9,82.10 L416.6,82.50 L417.3,82.01 L418.0,82.41 L418.7,82.23 L419.4,81.80 L420.1,81.51 L420.8,81.41 L421.5,81.82 L422.2,82.43 L422.9,82.29 L423.6,81.62 L424.3,81.93 L425.0,81.66 L425.7,82.08 L426.4,81.54 L427.1,82.05 L427.8,82.17 L428.5,82.33 L429.2,81.89 L429.9,81.80 L430.6,81.11 L431.3,81.17 L432.0,81.89 L432.7,81.72 L433.4,81.58 L434.1,82.17 L434.8,81.42 L435.5,82.04 L436.2,82.25 L436.9,81.85 L437.6,81.56 L438.3,81.51 L439.0,81.80 L439.7,81.92 L440.4,81.98 L441.1,81.26 L441.8,81.59 L442.5,81.77 L443.2,82.21 L443.9,81.04 L444.6,81.70 L445.3,81.21 L446.0,80.99 L446.7,81.39 L447.4,81.24 L448.1,81.65 L448.8,81.20 L449.5,81.12 L450.2,81.16 L450.9,81.73 L451.6,81.26 L452.3,81.21 L453.0,81.65 L453.7,81.37 L454.4,81.49 L455.1,81.47 L455.8,81.11 L456.5,80.84 L457.2,81.62 L457.9,81.21 L458.6,81.10 L459.3,81.14 L460.0,81.50 L460.7,81.31 L461.4,81.14 L462.1,81.04 L462.8,81.04 L463.5,81.43 L464.2,81.10 L464.9,80.97 L465.6,81.03 L466.3,81.42 L467.0,81.04 L467.7,81.19 L468.4,81.19 L469.1,81.00 L469.8,81.11 L470.5,81.12 L471.2,81.28 L471.9,80.98 L472.6,80.79 L473.3,81.16 L474.0,81.19 L474.7,81.27 L475.4,81.04 L476.1,81.12 L476.8,81.08 L477.5,81.00 L478.2,81.00 L478.9,81.13 L479.6,81.07 L480.3,80.72 L481.0,80.77 L481.7,80.93 L482.4,81.25 L483.1,80.80 L483.8,80.63 L484.5,80.99 L485.2,81.00 L485.9,81.17 L486.6,80.50 L487.3,81.32 L488.0,81.24 L488.0,86.02 L487.3,86.53 L486.6,87.12 L485.9,86.24 L485.2,86.47 L484.5,86.49 L483.8,86.04 L483.1,86.26 L482.4,86.38 L481.7,86.12 L481.0,86.68 L480.3,86.44 L479.6,86.05 L478.9,86.30 L478.2,86.63 L477.5,86.55 L476.8,87.11 L476.1,86.06 L475.4,86.10 L474.7,86.28 L474.0,86.54 L473.3,86.63 L472.6,86.58 L471.9,86.73 L471.2,86.19 L470.5,86.35 L469.8,86.22 L469.1,86.32 L468.4,86.02 L467.7,86.99 L467.0,86.36 L466.3,86.38 L465.6,86.50 L464.9,86.30 L464.2,86.54 L463.5,86.28 L462.8,86.27 L462.1,86.41 L461.4,86.45 L460.7,86.24 L460.0,86.45 L459.3,86.44 L458.6,86.73 L457.9,86.60 L457.2,86.27 L456.5,86.40 L455.8,86.26 L455.1,86.46 L454.4,86.11 L453.7,86.12 L453.0,86.52 L452.3,86.29 L451.6,86.68 L450.9,86.60 L450.2,86.30 L449.5,86.43 L448.8,86.63 L448.1,87.04 L447.4,86.37 L446.7,86.36 L446.0,86.26 L445.3,86.27 L444.6,86.52 L443.9,86.45 L443.2,86.83 L442.5,86.57 L441.8,86.57 L441.1,86.73 L440.4,86.68 L439.7,86.71 L439.0,86.65 L438.3,86.97 L437.6,86.40 L436.9,86.98 L436.2,86.98 L435.5,87.01 L434.8,86.79 L434.1,86.79 L433.4,87.56 L432.7,86.63 L432.0,87.38 L431.3,87.14 L430.6,86.98 L429.9,87.74 L429.2,86.94 L428.5,86.94 L427.8,87.16 L427.1,87.09 L426.4,87.05 L425.7,87.34 L425.0,87.33 L424.3,86.70 L423.6,86.81 L422.9,86.83 L422.2,87.35 L421.5,87.17 L420.8,87.29 L420.1,87.27 L419.4,86.81 L418.7,87.03 L418.0,87.55 L417.3,86.93 L416.6,87.35 L415.9,87.68 L415.2,87.42 L414.5,87.01 L413.8,87.08 L413.1,87.06 L412.4,86.85 L411.7,86.77 L411.0,87.37 L410.3,87.58 L409.6,87.39 L408.9,87.15 L408.2,87.63 L407.5,87.28 L406.8,87.61 L406.1,87.61 L405.4,86.94 L404.7,87.57 L404.0,86.83 L403.3,87.30 L402.6,87.68 L401.9,87.83 L401.2,87.43 L400.5,87.15 L399.8,87.77 L399.1,87.39 L398.4,87.25 L397.7,87.29 L397.0,87.56 L396.3,87.38 L395.6,87.38 L394.9,87.44 L394.2,87.33 L393.5,87.30 L392.8,87.24 L392.1,87.71 L391.4,87.54 L390.7,87.42 L390.0,87.34 L389.3,87.16 L388.6,87.75 L387.9,87.12 L387.2,87.74 L386.5,87.24 L385.8,87.75 L385.1,87.60 L384.4,87.35 L383.7,87.15 L383.0,87.93 L382.3,87.76 L381.6,87.29 L380.9,87.83 L380.2,87.46 L379.5,87.33 L378.8,87.39 L378.1,87.27 L377.4,86.83 L376.7,87.27 L376.0,87.86 L375.3,87.18 L374.6,87.16 L373.9,87.21 L373.2,86.79 L372.5,87.08 L371.8,87.00 L371.1,86.63 L370.4,86.78 L369.7,86.85 L369.0,87.48 L368.3,87.31 L367.6,87.29 L366.9,86.75 L366.2,86.47 L365.5,86.54 L364.8,87.28 L364.1,86.67 L363.4,87.08 L362.7,87.00 L362.0,87.12 L361.3,86.90 L360.6,86.81 L359.9,86.71 L359.2,87.04 L358.5,86.82 L357.8,86.64 L357.1,86.94 L356.4,86.47 L355.7,86.78 L355.0,87.03 L354.3,87.10 L353.6,86.74 L352.9,87.23 L352.2,86.62 L351.5,87.08 L350.8,86.84 L350.1,87.61 L349.4,86.48 L348.7,87.01 L348.0,87.16 L347.3,86.87 L346.6,86.85 L345.9,86.77 L345.2,87.20 L344.5,87.23 L343.8,87.09 L343.1,86.99 L342.4,86.95 L341.7,86.84 L341.0,86.63 L340.3,86.84 L339.6,87.52 L338.9,87.15 L338.2,86.97 L337.5,86.79 L336.8,87.01 L336.1,87.77 L335.4,87.03 L334.7,87.11 L334.0,87.04 L333.3,87.34 L332.6,87.58 L331.9,87.36 L331.2,87.53 L330.5,87.49 L329.8,87.37 L329.1,87.26 L328.4,86.98 L327.7,87.40 L327.0,87.48 L326.3,87.52 L325.6,87.86 L324.9,87.57 L324.2,87.81 L323.5,87.65 L322.8,87.99 L322.1,87.93 L321.4,88.08 L320.7,88.27 L320.0,88.27 L319.3,88.35 L318.6,88.25 L317.9,88.11 L317.2,88.12 L316.5,88.41 L315.8,88.33 L315.1,88.62 L314.4,88.48 L313.7,88.68 L313.0,88.34 L312.3,88.66 L311.6,89.41 L310.9,89.16 L310.2,89.22 L309.5,88.93 L308.8,89.28 L308.1,89.19 L307.4,89.27 L306.7,89.33 L306.0,89.25 L305.3,89.09 L304.6,89.49 L303.9,89.03 L303.2,89.87 L302.5,90.03 L301.8,89.82 L301.1,90.01 L300.4,89.72 L299.7,90.12 L299.0,90.16 L298.3,89.73 L297.6,90.00 L296.9,90.40 L296.2,90.53 L295.5,90.62 L294.8,90.09 L294.1,90.52 L293.4,90.82 L292.7,90.32 L292.0,90.65 L291.3,91.07 L290.6,91.01 L289.9,90.96 L289.2,91.40 L288.5,91.17 L287.8,91.28 L287.1,91.34 L286.4,91.22 L285.7,91.48 L285.0,91.22 L284.3,91.60 L283.6,91.86 L282.9,91.79 L282.2,91.91 L281.5,91.77 L280.8,92.10 L280.1,92.26 L279.4,92.36 L278.7,92.87 L278.0,92.32 L277.3,92.14 L276.6,92.80 L275.9,92.80 L275.2,92.91 L274.5,92.97 L273.8,93.04 L273.1,92.99 L272.4,93.10 L271.7,93.29 L271.0,93.40 L270.3,93.54 L269.6,93.68 L268.9,93.93 L268.2,93.93 L267.5,94.02 L266.8,93.95 L266.1,94.22 L265.4,94.58 L264.7,94.77 L264.0,94.77 L263.3,95.10 L262.6,95.08 L261.9,95.08 L261.2,95.19 L260.5,95.63 L259.8,95.98 L259.1,96.10 L258.4,96.26 L257.7,96.74 L257.0,97.10 L256.3,96.80 L255.6,97.15 L254.9,97.34 L254.2,97.21 L253.5,97.59 L252.8,97.79 L252.1,98.12 L251.4,98.28 L250.7,98.40 L250.0,98.80 L249.3,98.86 L248.6,98.93 L247.9,99.54 L247.2,99.62 L246.5,99.99 L245.8,100.44 L245.1,100.85 L244.4,100.97 L243.7,100.82 L243.0,101.19 L242.3,101.48 L241.6,101.53 L240.9,102.21 L240.2,102.49 L239.5,102.75 L238.8,103.35 L238.1,103.41 L237.4,103.43 L236.7,103.69 L236.0,104.61 L235.3,105.07 L234.6,105.35 L233.9,105.57 L233.2,105.84 L232.5,106.58 L231.8,106.63 L231.1,106.97 L230.4,107.43 L229.7,107.74 L229.0,108.11 L228.3,108.69 L227.6,109.06 L226.9,109.44 L226.2,109.84 L225.5,110.32 L224.8,110.70 L224.1,111.35 L223.4,111.66 L222.7,111.73 L222.0,112.35 L221.3,112.66 L220.6,113.30 L219.9,113.92 L219.2,114.47 L218.5,114.92 L217.8,115.47 L217.1,116.12 L216.4,116.50 L215.7,116.97 L215.0,117.70 L214.3,118.18 L213.6,118.55 L212.9,119.18 L212.2,120.18 L211.5,120.52 L210.8,121.00 L210.1,121.69 L209.4,122.41 L208.7,123.06 L208.0,123.79 L207.3,124.33 L206.6,124.82 L205.9,125.54 L205.2,126.45 L204.5,126.77 L203.8,127.39 L203.1,128.03 L202.4,128.65 L201.7,129.27 L201.0,130.16 L200.3,130.93 L199.6,131.62 L198.9,132.25 L198.2,133.06 L197.5,133.84 L196.8,134.60 L196.1,135.36 L195.4,136.08 L194.7,136.83 L194.0,137.65 L193.3,138.45 L192.6,139.24 L191.9,140.02 L191.2,140.76 L190.5,141.57 L189.8,142.45 L189.1,143.22 L188.4,144.05 L187.7,145.02 L187.0,145.87 L186.3,146.71 L185.6,147.62 L184.9,148.52 L184.2,149.41 L183.5,150.35 L182.8,151.30 L182.1,152.24 L181.4,153.21 L180.7,154.21 L180.0,155.22Z" fill="#0000ff" stroke="none"/>
<path d="M129.10,256.01 L129.85,254.22 L130.60,252.42 L131.35,250.61 L132.10,248.80 L132.85,246.98 L133.60,245.16 L134.35,243.33 L135.10,241.49 L135.85,239.66 L136.60,237.82 L137.35,235.98 L138.10,234.13 L138.85,232.29 L139.60,230.44 L140.35,228.59 L141.10,226.75 L141.85,224.90 L142.60,223.06 L143.35,221.22 L144.10,219.38 L144.85,217.54 L145.60,215.71 L146.35,213.89 L147.10,212.06 L147.85,210.25 L148.60,208.44 L149.35,206.63 L150.10,204.84 L150.85,203.05 L151.60,201.27 L152.35,199.50 L153.10,197.74 L153.85,195.99 L154.60,194.25 L155.35,192.52 L156.10,190.81 L156.85,189.10 L157.60,187.41 L158.35,185.74 L159.10,184.08 L159.85,182.43 L160.60,180.80 L161.35,179.18 L162.10,177.58 L162.85,176.00 L163.60,174.44 L164.35,172.89 L165.10,171.36 L165.85,169.86 L166.60,168.37 L167.35,166.90 L168.10,165.46 L168.85,164.03 L169.60,162.62 L170.35,161.24 L171.10,159.87 L171.85,158.52 L172.60,157.19 L173.35,155.87 L174.10,154.58 L174.85,153.30 L175.60,152.04 L176.35,150.79 L177.10,149.57 L177.85,148.35 L178.60,147.16 L179.35,145.98 L180.10,144.81 L180.85,143.66 L181.60,142.52 L182.35,141.40 L183.10,140.29 L183.85,139.19 L184.60,138.11 L185.35,137.04 L186.10,135.98 L186.85,134.94 L187.60,133.90 L188.35,132.88 L189.10,131.87 L189.85,130.87 L190.60,129.88 L191.35,128.90 L192.10,127.94 L192.85,126.98 L193.60,126.03 L194.35,125.10 L195.10,124.17 L195.85,123.25 L196.60,122.34 L197.35,121.44 L198.10,120.55 L198.85,119.67 L199.60,118.79 L200.35,117.92 L201.10,117.06 L201.85,116.21 L202.60,115.36 L203.35,114.53 L204.10,113.70 L204.85,112.87 L205.60,112.06 L206.35,111.26 L207.10,110.46 L207.85,109.67 L208.60,108.89 L209.35,108.12 L210.10,107.36 L210.85,106.61 L211.60,105.87 L212.35,105.13 L213.10,104.41 L213.85,103.70 L214.60,103.00 L215.35,102.31 L216.10,101.62 L216.85,100.95 L217.60,100.30 L218.35,99.65 L219.10,99.01 L219.85,98.38 L220.60,97.77 L221.35,97.17 L222.10,96.58 L222.85,96.00 L223.60,95.44 L224.35,94.88 L225.10,94.34 L225.85,93.81 L226.60,93.30 L227.35,92.80 L228.10,92.31 L228.85,91.83 L229.60,91.36 L230.35,90.90 L231.10,90.45 L231.85,90.01 L232.60,89.59 L233.35,89.17 L234.10,88.76 L234.85,88.36 L235.60,87.97 L236.35,87.58 L237.10,87.21 L237.85,86.84 L238.60,86.47 L239.35,86.12 L240.10,85.77 L240.85,85.43 L241.60,85.09 L242.35,84.76 L243.10,84.43 L243.85,84.10 L244.60,83.78 L245.35,83.47" fill="none" stroke="#000" stroke-width="4.2"/>
<path d="M240.0,83.34 L240.7,83.03 L241.4,82.72 L242.1,82.42 L242.8,82.11 L243.5,81.82 L244.2,81.54 L244.9,81.25 L245.6,80.94 L246.3,80.66 L247.0,80.37 L247.7,80.09 L248.4,79.81 L249.1,79.54 L249.8,79.28 L250.5,79.04 L251.2,78.74 L251.9,78.48 L252.6,78.18 L253.3,77.98 L254.0,77.71 L254.7,77.49 L255.4,77.19 L256.1,77.00 L256.8,76.72 L257.5,76.47 L258.2,76.22 L258.9,75.97 L259.6,75.78 L260.3,75.50 L261.0,75.27 L261.7,75.00 L262.4,74.84 L263.1,74.74 L263.8,74.53 L264.5,74.21 L265.2,74.07 L265.9,73.87 L266.6,73.58 L267.3,73.42 L268.0,73.19 L268.7,72.97 L269.4,72.90 L270.1,72.57 L270.8,72.49 L271.5,72.34 L272.2,71.98 L272.9,71.85 L273.6,71.61 L274.3,71.35 L275.0,71.29 L275.7,70.96 L276.4,70.83 L277.1,70.79 L277.8,70.65 L278.5,70.46 L279.2,70.26 L279.9,70.07 L280.6,70.02 L281.3,69.84 L282.0,69.61 L282.7,69.49 L283.4,69.50 L284.1,69.11 L284.8,68.98 L285.5,68.83 L286.2,68.79 L286.9,68.57 L287.6,68.57 L288.3,68.10 L289.0,68.17 L289.7,68.16 L290.4,67.88 L291.1,67.75 L291.8,67.55 L292.5,67.45 L293.2,67.20 L293.9,67.12 L294.6,67.24 L295.3,67.02 L296.0,66.97 L296.7,66.84 L297.4,66.73 L298.1,66.65 L298.8,66.36 L299.5,66.27 L300.2,66.13 L300.9,66.06 L301.6,65.94 L302.3,65.86 L303.0,65.83 L303.7,65.58 L304.4,65.47 L305.1,65.44 L305.8,65.23 L306.5,65.03 L307.2,65.04 L307.9,64.95 L308.6,64.95 L309.3,64.71 L310.0,64.80 L310.7,64.60 L311.4,64.44 L312.1,64.42 L312.8,64.50 L313.5,64.13 L314.2,64.22 L314.9,64.21 L315.6,63.85 L316.3,63.88 L317.0,63.89 L317.7,63.47 L318.4,63.82 L319.1,63.56 L319.8,63.57 L320.5,63.55 L321.2,63.50 L321.9,63.30 L322.6,63.35 L323.3,63.08 L324.0,63.23 L324.7,63.20 L325.4,63.21 L326.1,62.55 L326.8,62.72 L327.5,62.90 L328.2,62.76 L328.9,62.57 L329.6,62.61 L330.3,62.51 L331.0,62.53 L331.7,62.44 L332.4,62.32 L333.1,62.51 L333.8,62.15 L334.5,62.41 L335.2,62.26 L335.9,62.24 L336.6,62.22 L337.3,61.86 L338.0,61.91 L338.7,61.71 L339.4,61.92 L340.1,61.99 L340.8,61.91 L341.5,61.93 L342.2,61.89 L342.9,61.77 L343.6,61.77 L344.3,61.78 L345.0,61.79 L345.7,61.40 L346.4,61.46 L347.1,61.54 L347.8,61.51 L348.5,61.59 L349.2,61.36 L349.9,61.30 L350.6,61.46 L351.3,61.29 L352.0,61.36 L352.7,61.27 L353.4,61.18 L354.1,61.24 L354.8,61.22 L355.5,61.07 L356.2,60.91 L356.9,61.01 L357.6,60.95 L358.3,61.02 L359.0,60.85 L359.7,61.01 L360.4,60.96 L361.1,60.96 L361.8,60.92 L362.5,60.96 L363.2,60.64 L363.9,60.87 L364.6,60.89 L365.3,60.80 L366.0,60.78 L366.7,60.79 L367.4,60.62 L368.1,60.72 L368.8,60.48 L369.5,60.62 L370.2,60.76 L370.9,60.60 L371.6,60.50 L372.3,60.64 L373.0,60.71 L373.7,60.56 L374.4,60.62 L375.1,60.72 L375.8,60.78 L376.5,60.61 L377.2,60.57 L377.9,60.30 L378.6,60.61 L379.3,60.68 L380.0,60.60 L380.7,60.57 L381.4,60.58 L382.1,60.56 L382.8,60.60 L383.5,60.45 L384.2,60.67 L384.9,60.56 L385.6,60.60 L386.3,60.49 L387.0,60.66 L387.7,60.59 L388.4,60.53 L389.1,60.38 L389.8,60.61 L390.5,60.59 L391.2,60.67 L391.9,60.55 L392.6,60.47 L393.3,60.47 L394.0,60.68 L394.7,60.47 L395.4,60.54 L396.1,60.61 L396.8,60.59 L397.5,60.55 L398.2,60.44 L398.9,60.62 L399.6,60.59 L400.3,60.64 L401.0,60.59 L401.7,60.57 L402.4,60.58 L403.1,60.74 L403.8,60.64 L404.5,60.69 L405.2,60.55 L405.9,60.64 L406.6,60.58 L407.3,60.78 L408.0,60.56 L408.7,60.73 L409.4,60.71 L410.1,60.70 L410.8,60.59 L411.5,60.85 L412.2,60.00 L412.9,60.73 L413.6,60.89 L414.3,60.88 L415.0,60.64 L415.7,60.53 L416.4,60.56 L417.1,60.87 L417.8,60.90 L418.5,60.99 L419.2,60.88 L419.9,60.97 L420.6,60.88 L421.3,60.82 L422.0,60.90 L422.7,60.82 L423.4,60.84 L424.1,60.97 L424.8,60.89 L425.5,60.97 L426.2,60.85 L426.9,60.91 L427.6,60.97 L428.3,60.91 L429.0,61.06 L429.7,61.01 L430.4,61.11 L431.1,60.98 L431.8,61.00 L432.5,61.14 L433.2,61.20 L433.9,60.80 L434.6,61.10 L435.3,61.10 L436.0,61.10 L436.7,61.11 L437.4,60.87 L438.1,61.16 L438.8,61.20 L439.5,61.00 L440.2,60.81 L440.9,61.14 L441.6,61.12 L442.3,61.22 L443.0,61.14 L443.7,61.26 L444.4,61.20 L445.1,61.25 L445.8,61.24 L446.5,61.26 L447.2,61.06 L447.9,61.25 L448.6,61.20 L449.3,61.19 L450.0,61.18 L450.7,61.15 L451.4,61.28 L452.1,61.17 L452.8,61.31 L453.5,61.24 L454.2,61.16 L454.9,61.21 L455.6,61.26 L456.3,61.20 L457.0,61.20 L457.7,61.28 L458.4,61.18 L459.1,61.33 L459.8,61.25 L460.5,61.22 L461.2,61.34 L461.9,61.06 L462.6,61.29 L463.3,61.04 L464.0,61.10 L464.7,60.85 L465.4,61.33 L466.1,61.17 L466.8,61.25 L467.5,61.15 L468.2,61.33 L468.9,61.03 L469.6,61.31 L470.3,61.12 L471.0,61.24 L471.7,61.36 L472.4,61.20 L473.1,60.97 L473.8,61.06 L474.5,61.07 L475.2,61.06 L475.9,61.08 L476.6,61.15 L477.3,61.04 L478.0,61.00 L478.7,61.08 L479.4,60.78 L480.1,61.11 L480.8,60.88 L481.5,60.91 L482.2,60.83 L482.9,60.98 L483.6,60.78 L484.3,60.86 L485.0,60.87 L485.7,60.85 L486.4,60.42 L487.1,60.84 L487.8,60.79 L488.5,61.06 L488.5,65.17 L487.8,65.54 L487.1,65.53 L486.4,65.50 L485.7,65.69 L485.0,65.73 L484.3,65.59 L483.6,65.59 L482.9,65.71 L482.2,65.85 L481.5,65.72 L480.8,66.01 L480.1,65.92 L479.4,65.78 L478.7,65.84 L478.0,65.82 L477.3,65.83 L476.6,65.73 L475.9,65.88 L475.2,65.99 L474.5,65.74 L473.8,66.04 L473.1,65.94 L472.4,65.90 L471.7,66.05 L471.0,65.86 L470.3,65.91 L469.6,65.83 L468.9,65.88 L468.2,65.91 L467.5,66.07 L466.8,65.80 L466.1,65.88 L465.4,65.94 L464.7,65.96 L464.0,65.99 L463.3,65.88 L462.6,65.95 L461.9,66.16 L461.2,65.82 L460.5,66.05 L459.8,66.10 L459.1,65.83 L458.4,65.97 L457.7,65.90 L457.0,65.98 L456.3,65.96 L455.6,65.85 L454.9,65.80 L454.2,65.85 L453.5,65.87 L452.8,66.04 L452.1,65.82 L451.4,65.87 L450.7,65.99 L450.0,66.00 L449.3,65.80 L448.6,66.03 L447.9,66.02 L447.2,65.78 L446.5,65.93 L445.8,66.01 L445.1,66.03 L444.4,65.78 L443.7,65.80 L443.0,66.10 L442.3,65.89 L441.6,65.70 L440.9,65.84 L440.2,65.76 L439.5,65.87 L438.8,65.87 L438.1,65.67 L437.4,65.62 L436.7,65.81 L436.0,65.86 L435.3,65.71 L434.6,65.90 L433.9,65.61 L433.2,65.71 L432.5,65.57 L431.8,65.71 L431.1,65.64 L430.4,65.59 L429.7,65.61 L429.0,65.80 L428.3,65.58 L427.6,65.58 L426.9,65.47 L426.2,65.52 L425.5,65.53 L424.8,65.85 L424.1,65.62 L423.4,65.67 L422.7,65.56 L422.0,65.50 L421.3,65.46 L420.6,65.45 L419.9,65.47 L419.2,65.58 L418.5,65.61 L417.8,65.39 L417.1,65.45 L416.4,65.47 L415.7,65.31 L415.0,65.41 L414.3,65.54 L413.6,65.46 L412.9,65.40 L412.2,65.29 L411.5,65.41 L410.8,65.38 L410.1,65.32 L409.4,65.26 L408.7,65.15 L408.0,65.28 L407.3,65.22 L406.6,65.15 L405.9,65.32 L405.2,65.14 L404.5,65.22 L403.8,65.19 L403.1,65.47 L402.4,65.15 L401.7,65.32 L401.0,65.29 L400.3,65.22 L399.6,65.22 L398.9,65.17 L398.2,65.23 L397.5,65.28 L396.8,65.28 L396.1,65.10 L395.4,65.09 L394.7,65.20 L394.0,65.25 L393.3,65.29 L392.6,65.37 L391.9,65.18 L391.2,65.14 L390.5,65.20 L389.8,65.19 L389.1,65.19 L388.4,65.50 L387.7,65.01 L387.0,65.33 L386.3,65.12 L385.6,64.95 L384.9,65.07 L384.2,65.10 L383.5,65.04 L382.8,64.93 L382.1,65.09 L381.4,65.10 L380.7,65.28 L380.0,65.21 L379.3,65.11 L378.6,65.17 L377.9,65.13 L377.2,65.12 L376.5,65.27 L375.8,65.12 L375.1,65.15 L374.4,65.11 L373.7,65.07 L373.0,65.34 L372.3,65.16 L371.6,65.08 L370.9,65.22 L370.2,65.21 L369.5,65.14 L368.8,65.16 L368.1,65.29 L367.4,65.34 L366.7,65.34 L366.0,65.28 L365.3,65.49 L364.6,65.37 L363.9,65.15 L363.2,65.36 L362.5,65.26 L361.8,65.33 L361.1,65.42 L360.4,65.44 L359.7,65.63 L359.0,65.45 L358.3,65.59 L357.6,65.41 L356.9,65.53 L356.2,65.58 L355.5,65.43 L354.8,65.74 L354.1,65.63 L353.4,65.61 L352.7,65.67 L352.0,65.79 L351.3,65.84 L350.6,65.76 L349.9,65.86 L349.2,66.03 L348.5,65.83 L347.8,65.87 L347.1,65.76 L346.4,66.03 L345.7,66.14 L345.0,66.12 L344.3,66.11 L343.6,66.17 L342.9,66.15 L342.2,66.33 L341.5,66.32 L340.8,66.40 L340.1,66.24 L339.4,66.21 L338.7,66.33 L338.0,66.53 L337.3,66.38 L336.6,66.37 L335.9,66.66 L335.2,66.63 L334.5,66.82 L333.8,66.89 L333.1,66.98 L332.4,66.81 L331.7,66.83 L331.0,66.91 L330.3,67.16 L329.6,67.31 L328.9,67.14 L328.2,67.29 L327.5,67.26 L326.8,67.28 L326.1,67.33 L325.4,67.62 L324.7,67.69 L324.0,67.82 L323.3,67.74 L322.6,67.91 L321.9,67.98 L321.2,67.92 L320.5,68.01 L319.8,67.95 L319.1,68.06 L318.4,68.64 L317.7,68.22 L317.0,68.36 L316.3,68.39 L315.6,68.63 L314.9,68.70 L314.2,68.86 L313.5,68.89 L312.8,68.89 L312.1,69.16 L311.4,69.06 L310.7,69.11 L310.0,69.14 L309.3,69.20 L308.6,69.33 L307.9,69.50 L307.2,69.41 L306.5,69.83 L305.8,69.63 L305.1,69.71 L304.4,70.02 L303.7,70.03 L303.0,70.38 L302.3,70.35 L301.6,70.45 L300.9,70.58 L300.2,70.64 L299.5,70.76 L298.8,70.84 L298.1,70.97 L297.4,71.06 L296.7,71.17 L296.0,71.57 L295.3,71.45 L294.6,71.59 L293.9,71.58 L293.2,71.88 L292.5,71.98 L291.8,71.97 L291.1,72.10 L290.4,72.38 L289.7,72.59 L289.0,72.56 L288.3,72.97 L287.6,72.94 L286.9,73.08 L286.2,73.15 L285.5,73.23 L284.8,73.42 L284.1,73.86 L283.4,73.98 L282.7,73.95 L282.0,74.11 L281.3,74.51 L280.6,74.58 L279.9,74.54 L279.2,74.77 L278.5,74.95 L277.8,75.15 L277.1,75.36 L276.4,75.49 L275.7,75.60 L275.0,75.81 L274.3,75.94 L273.6,76.17 L272.9,76.31 L272.2,76.72 L271.5,76.83 L270.8,76.92 L270.1,77.25 L269.4,77.33 L268.7,77.55 L268.0,77.79 L267.3,77.95 L266.6,78.25 L265.9,78.45 L265.2,78.60 L264.5,78.92 L263.8,79.14 L263.1,79.25 L262.4,79.41 L261.7,79.69 L261.0,79.92 L260.3,80.20 L259.6,80.40 L258.9,80.66 L258.2,80.91 L257.5,81.17 L256.8,81.45 L256.1,81.65 L255.4,81.95 L254.7,82.17 L254.0,82.46 L253.3,82.66 L252.6,82.97 L251.9,83.24 L251.2,83.54 L250.5,83.79 L249.8,84.05 L249.1,84.32 L248.4,84.62 L247.7,84.90 L247.0,85.20 L246.3,85.49 L245.6,85.80 L244.9,86.10 L244.2,86.38 L243.5,86.69 L242.8,87.00 L242.1,87.32 L241.4,87.64 L240.7,87.96 L240.0,88.29Z" fill="#000" stroke="none"/>
</g>
<path d="M90,256.00h4.0M487.5,256.00h-4.0M90,247.80h1.6M487.5,247.80h-1.6M90,239.60h1.6M487.5,239.60h-1.6M90,231.40h1.6M487.5,231.40h-1.6M90,223.20h1.6M487.5,223.20h-1.6M90,215.00h4.0M487.5,215.00h-4.0M90,206.80h1.6M487.5,206.80h-1.6M90,198.60h1.6M487.5,198.60h-1.6M90,190.40h1.6M487.5,190.40h-1.6M90,182.20h1.6M487.5,182.20h-1.6M90,174.00h4.0M487.5,174.00h-4.0M90,165.80h1.6M487.5,165.80h-1.6M90,157.60h1.6M487.5,157.60h-1.6M90,149.40h1.6M487.5,149.40h-1.6M90,141.20h1.6M487.5,141.20h-1.6M90,133.00h4.0M487.5,133.00h-4.0M90,124.80h1.6M487.5,124.80h-1.6M90,116.60h1.6M487.5,116.60h-1.6M90,108.40h1.6M487.5,108.40h-1.6M90,100.20h1.6M487.5,100.20h-1.6M90,92.00h4.0M487.5,92.00h-4.0M90,83.80h1.6M487.5,83.80h-1.6M90,75.60h1.6M487.5,75.60h-1.6M90,67.40h1.6M487.5,67.40h-1.6M90,59.20h1.6M487.5,59.20h-1.6M90,51.00h4.0M487.5,51.00h-4.0M90,42.80h1.6M487.5,42.80h-1.6M90,34.60h1.6M487.5,34.60h-1.6M90,26.40h1.6M487.5,26.40h-1.6M90,18.20h1.6M487.5,18.20h-1.6M90,10.00h4.0M487.5,10.00h-4.0" stroke="#000" stroke-width="1.6" fill="none"/>
<path d="M101.20,255h0v-2.2M101.20,11v2.2M111.60,255h0v-2.2M111.60,11v2.2M120.79,255h0v-2.2M120.79,11v2.2M129.00,255h0v-3.6M129.00,11v3.6M183.03,255h0v-2.2M183.03,11v2.2M214.64,255h0v-2.2M214.64,11v2.2M237.07,255h0v-2.2M237.07,11v2.2M254.47,255h0v-3.6M254.47,11v3.6M268.68,255h0v-2.2M268.68,11v2.2M280.70,255h0v-2.2M280.70,11v2.2M291.10,255h0v-2.2M291.10,11v2.2M300.29,255h0v-2.2M300.29,11v2.2M308.50,255h0v-3.6M308.50,11v3.6M362.53,255h0v-2.2M362.53,11v2.2M394.14,255h0v-2.2M394.14,11v2.2M416.57,255h0v-2.2M416.57,11v2.2M433.97,255h0v-3.6M433.97,11v3.6M448.18,255h0v-2.2M448.18,11v2.2M460.20,255h0v-2.2M460.20,11v2.2M470.60,255h0v-2.2M470.60,11v2.2M479.79,255h0v-2.2M479.79,11v2.2M488.00,255v-3M488.00,11v3" stroke="#999" stroke-width="0.6" fill="none" opacity="0.6"/>
<rect x="89.25" y="10.0" width="399.0" height="246.0" fill="none" stroke="#000" stroke-width="2"/>
<g font-family="'Liberation Serif', serif" font-size="19.5" fill="#000">
<text x="86" y="261.00" text-anchor="end">0.00</text>
<text x="86" y="220.00" text-anchor="end">0.05</text>
<text x="86" y="179.00" text-anchor="end">0.10</text>
<text x="86" y="138.00" text-anchor="end">0.15</text>
<text x="86" y="97.00" text-anchor="end">0.20</text>
<text x="86" y="56.00" text-anchor="end">0.25</text>
<text x="86" y="15.00" text-anchor="end">0.30</text>
<text x="129.00" y="274.3" text-anchor="middle">0.1</text>
<text x="254.47" y="274.3" text-anchor="middle">0.5</text>
<text x="308.50" y="274.3" text-anchor="middle">1</text>
<text x="433.97" y="274.3" text-anchor="middle">5</text>
<text x="488.00" y="274.3" text-anchor="middle">10</text>
<text transform="translate(264.2,300.6) scale(1.36,1)" stroke="#fff" stroke-width="0.15" font-style="italic">τ</text>
<text transform="translate(278.7,300.6) scale(0.975,1)">[fm]</text>
<text transform="translate(361.7,53.599999999999994) scale(1.24,1)" stroke="#fff" stroke-width="0.12" font-size="18.8" font-style="italic">σ</text><text transform="translate(374.0,56.8) scale(1.34,1)" stroke="#fff" stroke-width="0.18" font-size="13.0" font-style="italic">T</text><text x="388.2" y="55.0">=</text><text x="405.4" y="53.3">0.06</text><text transform="translate(444.6,53.3) scale(1.07,1)">fm</text><text transform="translate(467.8,45.3) scale(1.15,1)" font-size="13">2</text>
<text transform="translate(361.7,108.3) scale(1.24,1)" stroke="#fff" stroke-width="0.12" font-size="18.8" font-style="italic">σ</text><text transform="translate(374.0,111.5) scale(1.34,1)" stroke="#fff" stroke-width="0.18" font-size="13.0" font-style="italic">T</text><text x="388.2" y="109.7">=</text><text x="405.4" y="108.0">0.19</text><text transform="translate(444.6,108.0) scale(1.07,1)">fm</text><text transform="translate(467.8,100.0) scale(1.15,1)" font-size="13">2</text>
<text transform="translate(361.7,153.20000000000002) scale(1.24,1)" stroke="#fff" stroke-width="0.12" font-size="18.8" font-style="italic">σ</text><text transform="translate(374.0,156.4) scale(1.34,1)" stroke="#fff" stroke-width="0.18" font-size="13.0" font-style="italic">T</text><text x="388.2" y="154.6">=</text><text x="405.4" y="152.9">0.50</text><text transform="translate(444.6,152.9) scale(1.07,1)">fm</text><text transform="translate(467.8,144.9) scale(1.15,1)" font-size="13">2</text>
<text transform="translate(361.7,227.3) scale(1.24,1)" stroke="#fff" stroke-width="0.12" font-size="18.8" font-style="italic">σ</text><text transform="translate(374.0,230.5) scale(1.34,1)" stroke="#fff" stroke-width="0.18" font-size="13.0" font-style="italic">T</text><text x="388.2" y="228.7">=</text><text x="405.4" y="227.0">2.00</text><text transform="translate(444.6,227.0) scale(1.07,1)">fm</text><text transform="translate(467.8,219.0) scale(1.15,1)" font-size="13">2</text>
<text x="22.4" y="125.2" font-size="17.5" font-style="italic" text-anchor="middle">π</text>
<text x="2.6" y="149.5" font-size="17.5" font-style="italic">ϵ</text>
<text x="14.2" y="151.4" font-size="20.5">+</text>
<text transform="translate(29.8,149.4) scale(1.3,1)" stroke="#fff" stroke-width="0.22" font-size="17.8" font-style="italic">P</text>
</g>
<rect x="2.8" y="130.35" width="40.4" height="1.1" fill="#222"/>
</svg>
</body></html>
